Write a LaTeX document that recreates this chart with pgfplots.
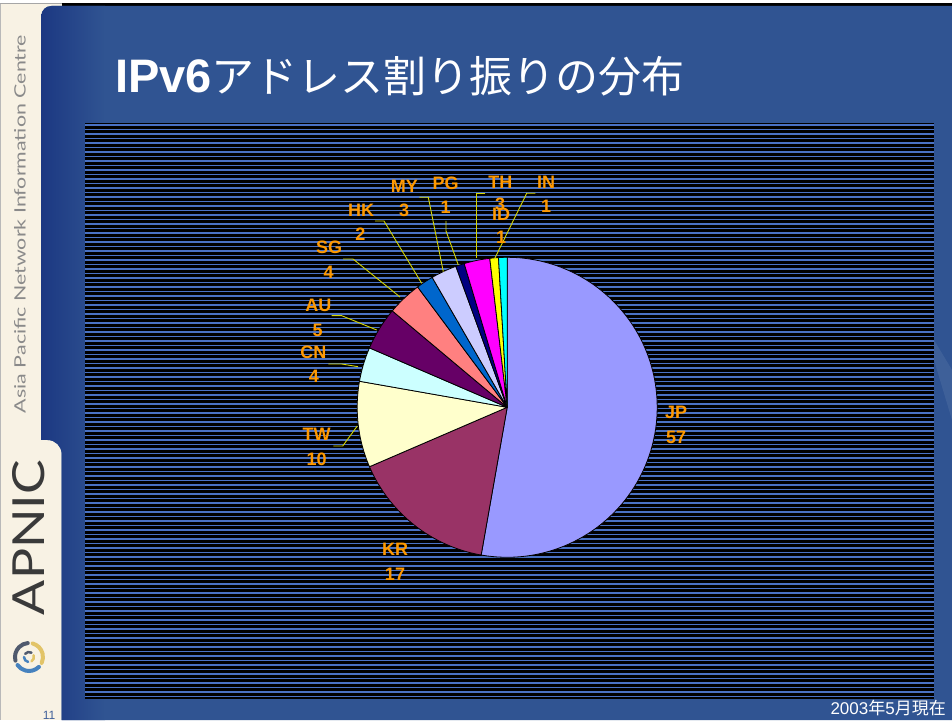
\documentclass[border=0pt]{standalone}
\usepackage{fontspec}
\setmainfont{Liberation Sans}
\newfontfamily\jp{Noto Sans CJK JP}
\newfontfamily\lato{Lato}
\usepackage{graphicx}
\usepackage{pgfplots}
\pgfplotsset{compat=1.18}

\definecolor{cream}{RGB}{248,242,228}
\definecolor{panel}{RGB}{48,84,146}
\definecolor{paneldark}{RGB}{28,56,130}
\definecolor{stripe}{RGB}{74,114,196}
\definecolor{lab}{RGB}{255,153,0}
\definecolor{lead}{RGB}{214,214,0}
\definecolor{sidegray}{RGB}{138,138,138}
\definecolor{apnicgray}{RGB}{58,58,58}
\definecolor{logoyel}{RGB}{226,196,104}
\definecolor{logoblue}{RGB}{70,130,190}
\definecolor{logogray}{RGB}{80,90,110}
\definecolor{pagenum}{RGB}{64,96,154}
\definecolor{jpc}{HTML}{9999FF}
\definecolor{krc}{HTML}{993366}
\definecolor{twc}{HTML}{FFFFCC}
\definecolor{cnc}{HTML}{CCFFFF}
\definecolor{auc}{HTML}{660066}
\definecolor{sgc}{HTML}{FF8080}
\definecolor{hkc}{HTML}{0066CC}
\definecolor{myc}{HTML}{CCCCFF}
\definecolor{pgc}{HTML}{000080}
\definecolor{thc}{HTML}{FF00FF}
\definecolor{idc}{HTML}{FFFF00}
\definecolor{inc}{HTML}{00FFFF}

% value / colour, clockwise from 12 o'clock: JP KR TW CN AU SG HK MY PG TH ID IN
\newcommand\pieslices{57/jpc,17/krc,10/twc,4/cnc,5/auc,4/sgc,2/hkc,3/myc,1/pgc,3/thc,1/idc,1/inc}

\begin{document}
\begin{tikzpicture}[x=1pt,y=1pt]
\useasboundingbox (0,0) rectangle (952,720);
% slide background
\fill[cream] (0,0) rectangle (952,720);
\fill[white] (0,716.7) rectangle (952,720);
\fill[gray!70] (0,716) rectangle (62,717.3);
\fill[black] (62,714) rectangle (952,716.7);
\fill[gray!55] (0,0) rectangle (1.3,716);
\def\panelpath{(952,0) -- (61.7,0) -- (61.7,266) arc[start angle=0,end angle=90,radius=14] -- (41.3,280) -- (41.3,704) arc[start angle=180,end angle=90,radius=10] -- (952,714) -- cycle}
\fill[panel] \panelpath;
\begin{scope}
\clip \panelpath;
\shade[left color=paneldark, right color=panel] (41,0) rectangle (105,714);
\fill[white,opacity=0.07] (934,380) -- (952,350) -- (952,300) -- (934,360) -- cycle;
\end{scope}
% sidebar texts
\node[rotate=90, text=sidegray, inner sep=0] at (20,496) {\resizebox{378pt}{11.5pt}{\lato Asia Pacific Network Information Centre}};
\node[rotate=90, text=apnicgray, inner sep=0] at (29,182.5) {\resizebox{155pt}{32pt}{\lato APNIC}};
\begin{scope}[shift={(29,63)}]
\draw[line width=4pt, logoyel, line cap=round] (75:14) arc[start angle=75,end angle=-25,radius=14];
\draw[line width=4pt, logoblue, line cap=round] (-45:14) arc[start angle=-45,end angle=-145,radius=14];
\draw[line width=4pt, logogray, line cap=round] (-165:14) arc[start angle=-165,end angle=-265,radius=14];
\draw[line width=2.5pt, logoyel, line cap=round] (20:5) arc[start angle=20,end angle=-60,radius=5];
\draw[line width=2.5pt, logoblue, line cap=round] (-100:5) arc[start angle=-100,end angle=-180,radius=5];
\draw[line width=2.5pt, logogray, line cap=round] (140:5) arc[start angle=140,end angle=60,radius=5];
\end{scope}
\node[anchor=base, text=pagenum, font=\fontsize{12}{12}\selectfont, inner sep=0] at (49,1) {11};
% title
\node[anchor=base west, text=white, inner sep=0] at (115,627.3) {{\fontsize{47}{47}\selectfont\bfseries IPv6}{\jp\fontsize{43}{43}\selectfont アドレス割り振りの分布}};
% date
\node[anchor=base east, text=white, inner sep=0] at (946,6) {\fontsize{17}{17}\selectfont 2003{\jp 年}5{\jp 月現在}};
% chart area with stripes
\fill[black] (85,21) rectangle (934,597);
\foreach \i in {0,...,127} {\draw[stripe, line width=1.1pt] (85,{595-\i*4.5}) -- (934,{595-\i*4.5});}
% pie
\begin{axis}[at={(507.2pt,312.7pt)}, anchor=center, scale only axis, width=300pt, height=300pt,
  xmin=-1, xmax=1, ymin=-1, ymax=1, axis lines=none, clip=false]
\gdef\total{0}
\foreach \v/\c in \pieslices {\pgfmathsetmacro\tmpsum{\total+\v}\xdef\total{\tmpsum}}
\gdef\cum{0}
\foreach \v/\c in \pieslices {%
  \pgfmathsetmacro\sa{90-(\cum/\total)*360}%
  \pgfmathsetmacro\nc{\cum+\v}%
  \xdef\cum{\nc}%
  \pgfmathsetmacro\sb{90-(\cum/\total)*360}%
  \edef\temp{\noexpand\addplot[fill=\c, draw=black, line width=0.8pt, line join=round, domain=\sb:\sa, samples=90] ({cos(x)},{sin(x)}) -- (axis cs:0,0) -- cycle;}%
  \temp
}
\end{axis}
% leader lines
\begin{scope}[lead, line width=0.9pt]
\draw (343,461) -- (353,461) -- (400,423);
\draw (375,499) -- (384,499) -- (421.7,436.7);
\draw (419.3,522.7) -- (428.3,522.7) -- (443.3,448.3);
\draw (446,499) -- (446,489) -- (458.3,455);
\draw (485.3,526.7) -- (476.7,526.7) -- (476.7,461.7);
\draw (535.3,526.7) -- (526.7,526.7) -- (494.3,460.7);
\draw (331.7,404.3) -- (341.7,404.3) -- (376.7,390);
\draw (328.3,356) -- (341.7,356) -- (358,353.3);
\draw (333.3,274) -- (342.7,274) -- (357.3,294);
\end{scope}
% labels
\begin{scope}[every node/.style={text=lab, font=\bfseries\fontsize{18}{18}\selectfont, inner sep=0}]
\node at (676,308) {JP}; \node at (676,283) {57};
\node at (395,171) {KR}; \node at (395,146) {17};
\node at (316.7,285.7) {TW}; \node at (316.7,260.7) {10};
\node at (313.3,367.3) {CN}; \node at (314,343.3) {4};
\node at (318.3,415) {AU}; \node at (317.7,390) {5};
\node at (329,472.7) {SG}; \node at (328.7,448) {4};
\node at (361,510) {HK}; \node at (360.3,486) {2};
\node at (404.3,533.3) {MY}; \node at (404,509.3) {3};
\node at (445.7,536.7) {PG}; \node at (445.7,512.3) {1};
\node at (500.3,537.3) {TH}; \node at (500,516) {3};
\node at (501,506) {ID}; \node at (501,483) {1};
\node at (546,537.3) {IN}; \node at (546,513.3) {1};
\end{scope}
\end{tikzpicture}
\end{document}
